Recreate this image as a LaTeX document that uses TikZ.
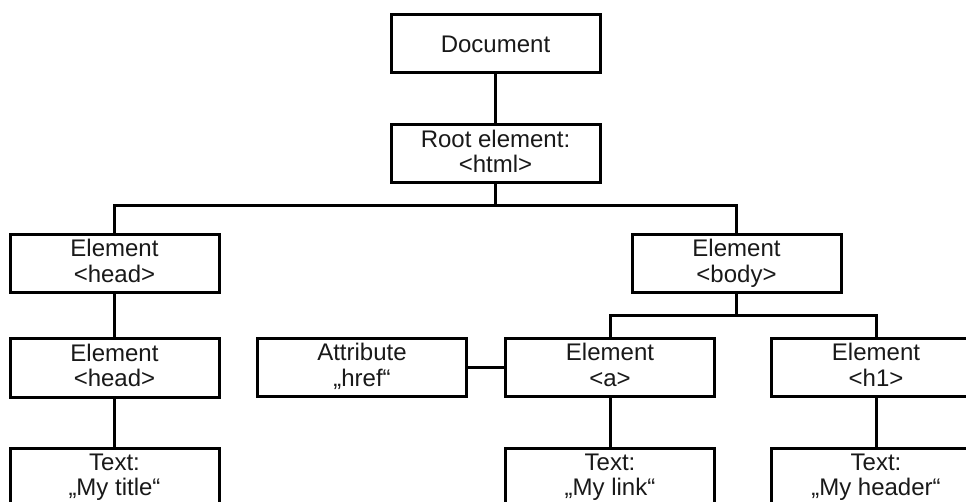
\documentclass[tikz,border=0pt]{standalone}
\usepackage{fontspec}
\setmainfont{Liberation Sans}
\begin{document}
\begin{tikzpicture}[x=1pt,y=-1pt,
  box/.style={draw=black, line width=3pt, fill=white, minimum width=209pt,
    minimum height=58pt, inner sep=0pt, align=center,
    font=\fontsize{24}{25.5}\selectfont, text=black!90},
  % fixed line height and depth so that descenders do not shift the text
  twoline/.style={box,
    execute at begin node={\rule{0pt}{23.5pt}},
    execute at end node={\rule[-5pt]{0pt}{5pt}}},
  link/.style={draw=black, line width=3pt}]
  \useasboundingbox (0,0) rectangle (966,502);
  \clip (0,0) rectangle (966,502);

  % tree levels
  \node[box]     (doc)   at (495.5,44)    {Document};
  \node[twoline] (root)  at (495.5,154)   {Root element:\\<html>};
  \node[twoline] (head1) at (114.5,263.5) {Element\\<head>};
  \node[twoline] (body)  at (736.5,263.5) {Element\\<body>};
  \node[twoline] (head2) at (114.5,368)   {Element\\<head>};
  \node[twoline] (attr)  at (362,367.5)   {Attribute\\„href“};
  \node[twoline] (a)     at (610,367.5)   {Element\\<a>};
  \node[twoline] (h1)    at (876,367.5)   {Element\\<h1>};
  \node[twoline] (ttl)   at (114.5,477)   {Text:\\„My title“};
  \node[twoline] (lnk)   at (610,477)     {Text:\\„My link“};
  \node[twoline] (hdr)   at (876,477)     {Text:\\„My header“};

  % connectors
  \coordinate (rj) at (root.south |- 0,206);
  \coordinate (bj) at (body.south |- 0,316);
  \draw[link] (doc) -- (root);
  \draw[link] (root.south) -- (rj);
  \draw[link] (head1.north) |- (rj) -| (body.north);
  \draw[link] (head1) -- (head2);
  \draw[link] (head2) -- (ttl);
  \draw[link] (body.south) -- (bj);
  \draw[link] (a.north) |- (bj) -| (h1.north);
  \draw[link] (attr) -- (a);
  \draw[link] (a) -- (lnk);
  \draw[link] (h1) -- (hdr);
\end{tikzpicture}
\end{document}
